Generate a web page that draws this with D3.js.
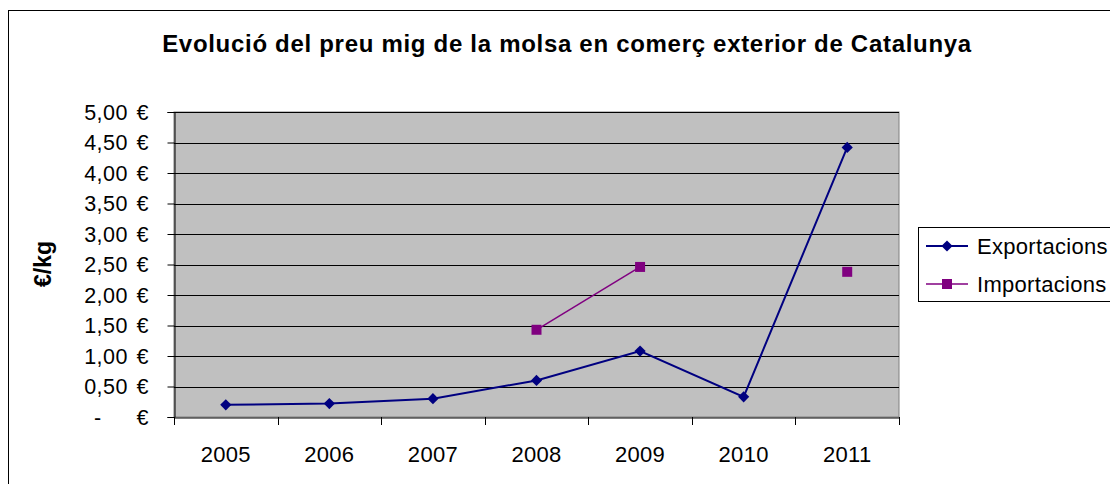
<!DOCTYPE html>
<html><head><meta charset="utf-8">
<script src="https://cdn.jsdelivr.net/npm/d3@7"></script>
<style>body{margin:0;background:#fff}svg{display:block;font-family:"Liberation Sans",Arial,sans-serif}</style>
</head><body>
<svg id="c" width="1110" height="484"></svg>
<script>
const years = ["2005","2006","2007","2008","2009","2010","2011"];
const exportacions = [0.20, 0.22, 0.30, 0.60, 1.08, 0.33, 4.42];
const importacions = [null, null, null, 1.43, 2.46, null, 2.38];
const yTicks = [0,0.5,1,1.5,2,2.5,3,3.5,4,4.5,5];
const yTickLabels = ["-","0,50","1,00","1,50","2,00","2,50","3,00","3,50","4,00","4,50","5,00"];
const title = "Evolució del preu mig de la molsa en comerç exterior de Catalunya";
const yTitle = "€/kg";
const seriesNames = ["Exportacions","Importacions"];

const svg = d3.select("#c");
const L=174,R=899,T=112,B=417;
const x = d3.scaleBand().domain(years).range([L,R]).padding(0);
const y = d3.scaleLinear().domain([0,5]).range([B,T]);

// outer border
svg.append("rect").attr("x",8.5).attr("y",10.5).attr("width",1200).attr("height",600)
  .attr("fill","#fff").attr("stroke","#000").attr("stroke-width",1);

svg.append("text").attr("x",567).attr("y",52).attr("text-anchor","middle")
  .attr("font-size",24).attr("font-weight","bold").attr("letter-spacing",0.7).text(title);

// plot area
svg.append("rect").attr("x",L).attr("y",T).attr("width",R-L).attr("height",B-T)
  .attr("fill","#c0c0c0").attr("stroke","#808080");

// gridlines
svg.append("g").selectAll("line").data(yTicks.slice(1)).join("line")
  .attr("x1",L).attr("x2",R).attr("y1",d=>Math.round(y(d))+0.5).attr("y2",d=>Math.round(y(d))+0.5)
  .attr("stroke","#000").attr("stroke-width",1);

// y axis
const ya = svg.append("g").attr("transform",`translate(${L+0.5},0)`)
  .call(d3.axisLeft(y).tickValues(yTicks).tickSize(7).tickFormat(""));
ya.select(".domain").attr("stroke","#000");
ya.selectAll(".tick line").attr("stroke","#000");
const yl = svg.append("g").attr("font-size",21.5).attr("letter-spacing",0.5);
yl.selectAll("text.n").data(yTicks).join("text").attr("class","n")
  .attr("x",(d,i)=>i===0?94:128).attr("text-anchor",(d,i)=>i===0?"start":"end")
  .attr("y",d=>y(d)+7.5).text((d,i)=>yTickLabels[i]);
yl.selectAll("text.e").data(yTicks).join("text").attr("class","e")
  .attr("x",149).attr("text-anchor","end").attr("y",d=>y(d)+7.5).text("€");

svg.append("text").attr("transform",`translate(51,264) rotate(-90)`).attr("text-anchor","middle")
  .attr("font-size",23).attr("font-weight","bold").text(yTitle);

// x axis
const xa = svg.append("g").attr("transform",`translate(0,${B+0.5})`)
  .call(d3.axisBottom(x).tickSize(0).tickFormat(""));
xa.select(".domain").attr("stroke","#000");
svg.append("g").selectAll("line").data(years.concat(["end"])).join("line")
  .attr("x1",(d,i)=>Math.round(L+i*x.bandwidth())+0.5).attr("x2",(d,i)=>Math.round(L+i*x.bandwidth())+0.5)
  .attr("y1",B).attr("y2",B+8).attr("stroke","#000");
svg.append("g").attr("font-size",22).attr("letter-spacing",0.3).selectAll("text").data(years).join("text")
  .attr("x",d=>x(d)+x.bandwidth()/2).attr("y",462).attr("text-anchor","middle").text(d=>d);

const cx = d=>x(d)+x.bandwidth()/2;
const line = d3.line().defined(d=>d[1]!=null).x(d=>cx(d[0])).y(d=>y(d[1]));
const exp = years.map((yr,i)=>[yr,exportacions[i]]);
const imp = years.map((yr,i)=>[yr,importacions[i]]);
const navy="#000080", purple="#800080";
svg.append("path").attr("d",line(imp)).attr("fill","none").attr("stroke",purple).attr("stroke-width",1.5);
svg.append("path").attr("d",line(exp)).attr("fill","none").attr("stroke",navy).attr("stroke-width",2);
const diamond = d3.symbol().type(d3.symbolDiamond2).size(80);
const square = d3.symbol().type(d3.symbolSquare).size(100);
svg.append("g").selectAll("path").data(imp.filter(d=>d[1]!=null)).join("path")
  .attr("d",square).attr("transform",d=>`translate(${cx(d[0])},${y(d[1])})`).attr("fill",purple);
svg.append("g").selectAll("path").data(exp).join("path")
  .attr("d",diamond).attr("transform",d=>`translate(${cx(d[0])},${y(d[1])})`).attr("fill",navy);

// legend
svg.append("rect").attr("x",918.5).attr("y",227.5).attr("width",300).attr("height",74)
  .attr("fill","#fff").attr("stroke","#000");
const lg = svg.append("g");
[[navy,diamond,246],[purple,square,284]].forEach((s,i)=>{
  lg.append("line").attr("x1",926).attr("x2",968).attr("y1",s[2]).attr("y2",s[2]).attr("stroke",s[0]).attr("stroke-width",i?1.5:2);
  lg.append("path").attr("d",s[1]).attr("transform",`translate(947,${s[2]})`).attr("fill",s[0]);
  lg.append("text").attr("x",977).attr("y",s[2]+7.5).attr("font-size",22).attr("letter-spacing",0.3).text(seriesNames[i]);
});
</script>
</body></html>
